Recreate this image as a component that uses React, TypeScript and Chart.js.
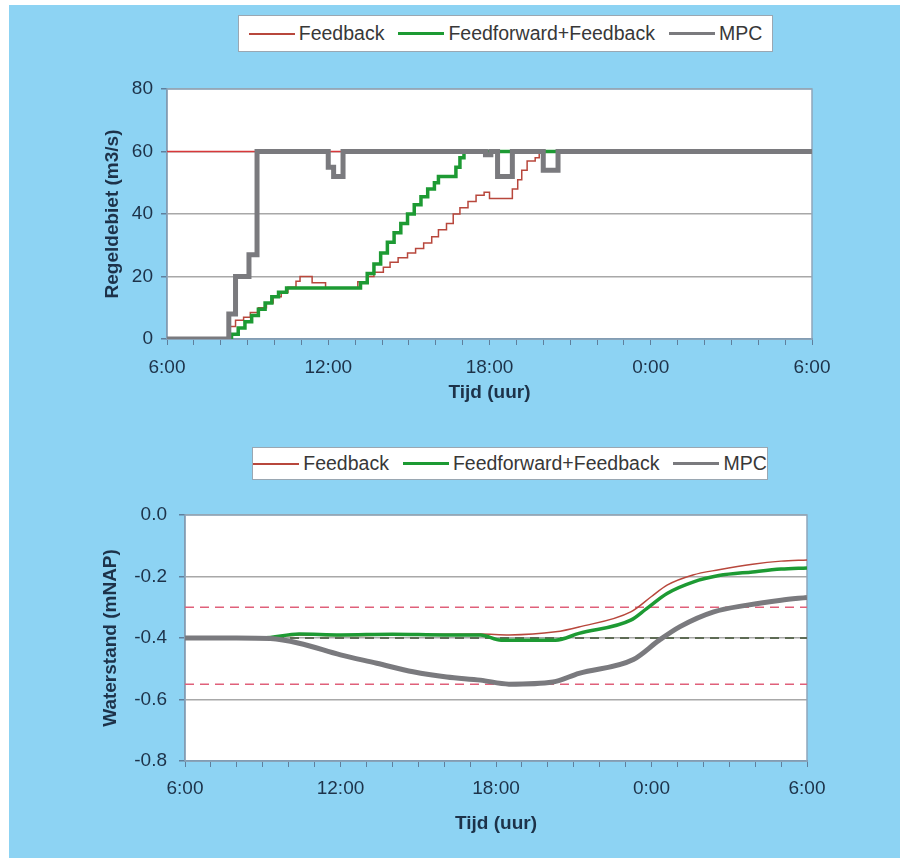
import React, { useEffect, useRef } from 'react';
import { Chart, registerables } from 'chart.js';

Chart.register(...registerables);

// ---------- data ----------
const seriesNames = ['Feedback', 'Feedforward+Feedback', 'MPC'];
const timeTickLabels = ['6:00', '12:00', '18:00', '0:00', '6:00'];

// Regeldebiet (m3/s): [hours after 6:00, value] – value from that moment on (stepped)
const flowFeedback: [number, number][] = [
  [0, 0], [2.3, 4], [2.55, 6], [2.85, 7], [3.1, 8.5], [3.4, 10], [3.7, 11.5], [3.95, 13.5],
  [4.25, 15], [4.5, 16.6], [4.8, 18.5], [4.95, 20], [5.4, 18], [5.9, 16.3], [7.1, 18.3],
  [7.45, 20], [7.7, 21.4], [8.05, 23], [8.3, 24.6], [8.6, 26], [8.95, 27.5], [9.25, 29],
  [9.55, 30.7], [9.85, 32.7], [10.1, 35], [10.4, 37], [10.65, 40], [10.9, 42], [11.2, 44],
  [11.5, 46], [11.8, 47], [12.0, 45], [12.85, 48], [13.05, 51], [13.2, 54], [13.4, 57],
  [13.7, 58], [13.85, 60], [24, 60],
];
const flowFeedforward: [number, number][] = [
  [0, 0], [2.4, 1.5], [2.65, 3.5], [2.9, 5.5], [3.15, 7.5], [3.4, 9.5], [3.65, 11.5],
  [3.9, 13.5], [4.15, 15], [4.45, 16.3], [7.2, 18], [7.45, 21], [7.7, 24], [7.95, 27.5],
  [8.2, 31], [8.45, 34], [8.7, 37], [8.95, 40], [9.2, 43], [9.45, 45.5], [9.7, 48],
  [9.95, 50], [10.1, 52], [10.75, 55], [10.9, 58], [11.05, 60], [24, 60],
];
const flowMPC: [number, number][] = [
  [0, 0], [2.3, 8], [2.55, 20], [3.05, 27], [3.35, 60], [6.0, 55], [6.2, 52], [6.55, 60],
  [11.85, 59], [12.05, 60], [12.3, 52], [12.85, 60], [14.0, 54], [14.55, 60], [24, 60],
];
const flowMaximum = 60;

// Waterstand (mNAP): [hours after 6:00, value]
const levelFeedback: [number, number][] = [
  [0, -0.4], [3, -0.4], [4.4, -0.39], [6, -0.392], [8, -0.39], [10, -0.388], [11.4, -0.387],
  [12.5, -0.39], [14.3, -0.38], [15.2, -0.364], [17.2, -0.315], [18.0, -0.265], [18.6, -0.228],
  [19.6, -0.195], [20.6, -0.178], [21.9, -0.16], [23, -0.15], [24, -0.146],
];
const levelFeedforward: [number, number][] = [
  [0, -0.4], [3, -0.4], [4.4, -0.387], [6, -0.39], [8, -0.388], [10, -0.39], [11.4, -0.39],
  [12.2, -0.407], [14.3, -0.407], [15.2, -0.385], [17.2, -0.342], [17.8, -0.305], [18.6, -0.255],
  [19.6, -0.218], [20.6, -0.197], [21.9, -0.185], [23, -0.176], [24, -0.172],
];
const levelMPC: [number, number][] = [
  [0, -0.4], [2, -0.4], [3.3, -0.402], [4.4, -0.417], [6.0, -0.455], [7.4, -0.482], [8.8, -0.51],
  [10.1, -0.527], [11.4, -0.537], [12.5, -0.55], [14.2, -0.543], [15.2, -0.515], [17.3, -0.47],
  [18.3, -0.407], [19.1, -0.363], [20.4, -0.315], [21.7, -0.293], [23, -0.277], [24, -0.268],
];
const levelUpper = -0.3;
const levelTarget = -0.4;
const levelLower = -0.55;

// ---------- styles ----------
const FONT = "'Liberation Sans', Arial, Helvetica, sans-serif";
const COLORS = ['#b8473c', '#1d9a33', '#7a7a7e'];
const WIDTHS = [1.5, 3.5, 5];
const LEGEND_WIDTHS = [2, 3, 3];
const BLUE = '#8dd3f3';
const AXIS = '#5f7f9c';
const TEXT = '#1d3249';
const TICK_SIZE = 19;
const TITLE_SIZE = 19;

const pts = (a: [number, number][]) => a.map(([x, y]) => ({ x, y }));
const flat = (v: number) => [{ x: 0, y: v }, { x: 24, y: v }];

const framePlugin = {
  id: 'frame',
  beforeDraw(chart: any) {
    const { ctx, chartArea: { left, top, right, bottom } } = chart;
    ctx.save();
    ctx.fillStyle = '#ffffff';
    ctx.fillRect(left, top, right - left, bottom - top);
    ctx.restore();
  },
  beforeDatasetsDraw(chart: any) {
    const { ctx, chartArea: { left, top, right, bottom } } = chart;
    ctx.save();
    ctx.strokeStyle = '#8ea6bb';
    ctx.lineWidth = 1.5;
    ctx.strokeRect(left, top, right - left, bottom - top);
    ctx.restore();
  },
};

function xScale(tickPad: number, height: number, titlePad: number) {
  return {
    type: 'linear',
    min: 0,
    max: 24,
    afterFit: (s: any) => { s.height = height; },
    ticks: {
      stepSize: 1,
      autoSkip: false,
      maxRotation: 0,
      padding: tickPad,
      color: TEXT,
      font: { family: FONT, size: TICK_SIZE },
      callback: (v: number) => (v % 6 === 0 ? timeTickLabels[v / 6] : ''),
    },
    grid: { drawOnChartArea: false, drawTicks: true, tickLength: 6, tickColor: AXIS, lineWidth: 1 },
    border: { color: AXIS, width: 1.5 },
    title: {
      display: true,
      text: 'Tijd (uur)',
      color: TEXT,
      font: { family: FONT, size: TITLE_SIZE, weight: 'bold' },
      padding: { top: 0, bottom: titlePad },
    },
  };
}

function yScale(min: number, max: number, step: number, width: number, tickPad: number, title: string, fmt: (v: number) => string) {
  return {
    min,
    max,
    afterFit: (s: any) => { s.width = width; },
    ticks: {
      stepSize: step,
      padding: tickPad,
      color: TEXT,
      font: { family: FONT, size: TICK_SIZE },
      callback: (v: number) => fmt(v),
    },
    grid: { color: '#a8a8a8', lineWidth: 1.5, tickLength: 6, tickColor: AXIS },
    border: { color: AXIS, width: 1.5 },
    title: {
      display: true,
      text: title,
      color: TEXT,
      font: { family: FONT, size: TITLE_SIZE, weight: 'bold' },
      padding: { top: 6, bottom: 0 },
    },
  };
}

function Legend({ left, top, width, height }: { left: number; top: number; width: number; height: number }) {
  return (
    <div
      style={{
        position: 'absolute', left, top, width, height, boxSizing: 'border-box',
        background: '#ffffff', border: '1.5px solid #9aa7b2',
        display: 'flex', alignItems: 'center', justifyContent: 'center',
        fontFamily: FONT, fontSize: 19.5, color: '#383838',
      }}
    >
      {seriesNames.map((n, i) => (
        <div key={n} style={{ display: 'flex', alignItems: 'center', marginLeft: i === 0 ? 0 : 14 }}>
          <span style={{ display: 'inline-block', width: 46, height: 0, borderTop: `${LEGEND_WIDTHS[i]}px solid ${COLORS[i]}`, marginRight: 4 }} />
          <span>{n}</span>
        </div>
      ))}
    </div>
  );
}

export default function App() {
  const topRef = useRef<HTMLCanvasElement>(null);
  const botRef = useRef<HTMLCanvasElement>(null);

  useEffect(() => {
    document.body.style.margin = '0';
    const top = new Chart(topRef.current!, {
      type: 'line',
      data: {
        datasets: [
          { label: 'Maximum', data: flat(flowMaximum), borderColor: '#d8383a', borderWidth: 1.5, pointRadius: 0, order: 4 },
          ...[flowFeedback, flowFeedforward, flowMPC].map((d, i) => ({
            label: seriesNames[i],
            data: pts(d),
            stepped: 'before',
            borderColor: COLORS[i],
            borderWidth: WIDTHS[i],
            pointRadius: 0,
            order: 3 - i,
          })),
        ] as any,
      },
      options: {
        responsive: false,
        animation: false,
        parsing: false,
        layout: { padding: { left: 95, right: 97, top: 89, bottom: 11 } },
        plugins: { legend: { display: false }, tooltip: { enabled: false } },
        scales: {
          x: xScale(11, 80, 15),
          y: yScale(0, 80, 20, 72, 8, 'Regeldebiet (m3/s)', (v) => String(v)),
        } as any,
      },
      plugins: [framePlugin],
    });

    const bot = new Chart(botRef.current!, {
      type: 'line',
      data: {
        datasets: [
          { label: 'Boven', data: flat(levelUpper), borderColor: '#e0607a', borderWidth: 1.5, borderDash: [9, 6], pointRadius: 0, order: 6 },
          { label: 'Streef', data: flat(levelTarget), borderColor: '#5e6b55', borderWidth: 2, borderDash: [9, 6], pointRadius: 0, order: 5 },
          { label: 'Onder', data: flat(levelLower), borderColor: '#e0607a', borderWidth: 1.5, borderDash: [9, 6], pointRadius: 0, order: 4 },
          ...[levelFeedback, levelFeedforward, levelMPC].map((d, i) => ({
            label: seriesNames[i],
            data: pts(d),
            cubicInterpolationMode: 'monotone',
            borderColor: COLORS[i],
            borderWidth: WIDTHS[i],
            pointRadius: 0,
            order: 3 - i,
          })),
        ] as any,
      },
      options: {
        responsive: false,
        animation: false,
        parsing: false,
        layout: { padding: { left: 93, right: 102, top: 85, bottom: 12 } },
        plugins: { legend: { display: false }, tooltip: { enabled: false } },
        scales: {
          x: xScale(10, 90, 16),
          y: yScale(-0.8, 0, 0.2, 92, 12, 'Waterstand (mNAP)', (v) => Number(v).toFixed(1)),
        } as any,
      },
      plugins: [framePlugin],
    });

    return () => { top.destroy(); bot.destroy(); };
  }, []);

  return (
    <div style={{ position: 'relative', width: 909, height: 863, background: '#ffffff', overflow: 'hidden' }}>
      <div style={{ position: 'absolute', left: 9, top: 5, width: 891, height: 853, background: BLUE }} />
      <canvas ref={topRef} width={909} height={430} style={{ position: 'absolute', left: 0, top: 0 }} />
      <canvas ref={botRef} width={909} height={433} style={{ position: 'absolute', left: 0, top: 430 }} />
      <Legend left={238} top={15} width={535} height={37} />
      <Legend left={252} top={447} width={516} height={33} />
    </div>
  );
}
